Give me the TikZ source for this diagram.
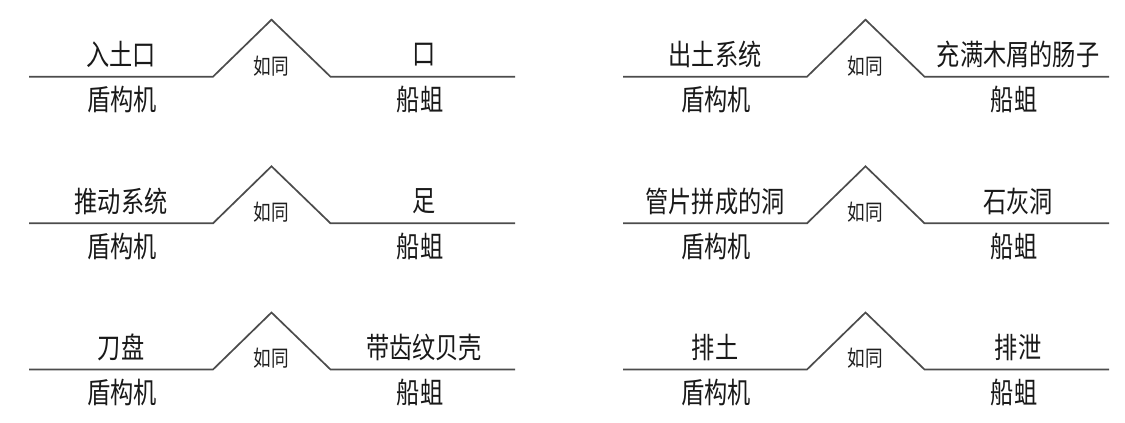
\documentclass[tikz,border=0pt]{standalone}
\usepackage{fontspec}
\newfontfamily\cjk[FakeStretch=0.8]{Noto Sans CJK SC}
\tikzset{
  simline/.style={draw=black!70, line width=1.7pt, line join=miter},
  lbl/.style={inner sep=0pt, text=black!90, font=\cjk\fontsize{29}{31}\selectfont},
  smalllbl/.style={inner sep=0pt, text=black!88, font=\cjk\fontsize{22}{24}\selectfont},
}
\newcommand{\simileblock}[5]{%
  \begin{scope}[shift={(#2,#3)}]
    \coordinate (#1-a) at (29,0);
    \coordinate (#1-b) at (213,0);
    \coordinate (#1-c) at (271.5,-57);
    \coordinate (#1-d) at (330.5,0);
    \coordinate (#1-e) at (515,0);
    \draw[simline] (#1-a) -- (#1-b) -- (#1-c) -- (#1-d) -- (#1-e);
    \node[lbl] (#1-tl) at (121,-22) {#4};
    \node[lbl] (#1-bl) at (122,23) {盾构机};
    \node[lbl] (#1-tr) at (424,-22) {#5};
    \node[lbl] (#1-br) at (420,23) {船蛆};
    \node[smalllbl] (#1-m) at (271,-11) {如同};
  \end{scope}}
\begin{document}
\begin{tikzpicture}[x=1pt,y=-1pt]
  \useasboundingbox[fill=white] (0,0) rectangle (1125,423);
  \simileblock{r1l}{0}{76.7}{入土口}{口}
  \simileblock{r1r}{594}{76.7}{出土系统}{充满木屑的肠子}
  \simileblock{r2l}{0}{223.3}{推动系统}{足}
  \simileblock{r2r}{594}{223.3}{管片拼成的洞}{石灰洞}
  \simileblock{r3l}{0}{369.5}{刀盘}{带齿纹贝壳}
  \simileblock{r3r}{594}{369.5}{排土}{排泄}
\end{tikzpicture}
\end{document}
